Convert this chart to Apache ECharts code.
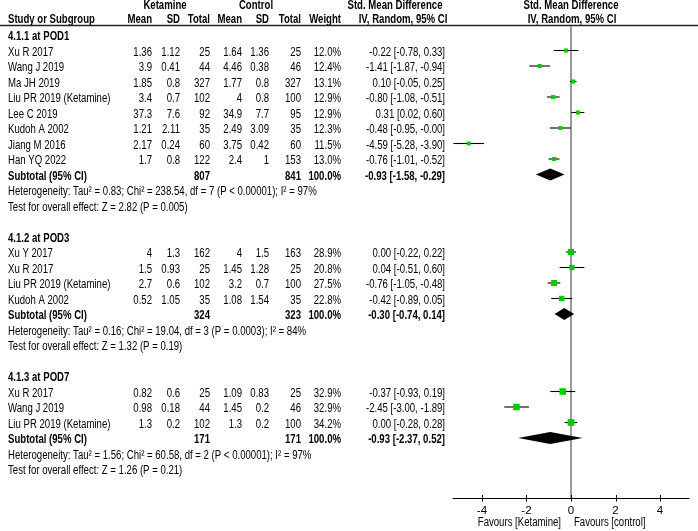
<!DOCTYPE html>
<html><head><meta charset="utf-8">
<script src="https://cdn.jsdelivr.net/npm/echarts@6/dist/echarts.min.js"></script>
<style>html,body{margin:0;padding:0;background:#fff}#c{width:698px;height:531px}</style>
</head><body><div id="c"></div>
<script>
// ---------- data ----------
const groupNames = ['4.1.1 at POD1', '4.1.2 at POD3', '4.1.3 at POD7'];
const studyGroup = [0,0,0,0,0,0,0,0, 1,1,1,1, 2,2,2];
const studyNames = ['Xu R 2017','Wang J 2019','Ma JH 2019','Liu PR 2019 (Ketamine)','Lee C 2019','Kudoh A 2002','Jiang M 2016','Han YQ 2022',
  'Xu Y 2017','Xu R 2017','Liu PR 2019 (Ketamine)','Kudoh A 2002',
  'Xu R 2017','Wang J 2019','Liu PR 2019 (Ketamine)'];
const ketMean = [1.36,3.9,1.85,3.4,37.3,1.21,2.17,1.7, 4,1.5,2.7,0.52, 0.82,0.98,1.3];
const ketSD   = [1.12,0.41,0.8,0.7,7.6,2.11,0.24,0.8, 1.3,0.93,0.6,1.05, 0.6,0.18,0.2];
const ketN    = [25,44,327,102,92,35,60,122, 162,25,102,35, 25,44,102];
const ctlMean = [1.64,4.46,1.77,4,34.9,2.49,3.75,2.4, 4,1.45,3.2,1.08, 1.09,1.45,1.3];
const ctlSD   = [1.36,0.38,0.8,0.8,7.7,3.09,0.42,1, 1.5,1.28,0.7,1.54, 0.83,0.2,0.2];
const ctlN    = [25,46,327,100,95,35,60,153, 163,25,100,35, 25,46,100];
const weight  = [12.0,12.4,13.1,12.9,12.9,12.3,11.5,13.0, 28.9,20.8,27.5,22.8, 32.9,32.9,34.2];
const smd     = [-0.22,-1.41,0.10,-0.80,0.31,-0.48,-4.59,-0.76, 0.00,0.04,-0.76,-0.42, -0.37,-2.45,0.00];
const ciLow   = [-0.78,-1.87,-0.05,-1.08,0.02,-0.95,-5.28,-1.01, -0.22,-0.51,-1.05,-0.89, -0.93,-3.00,-0.28];
const ciHigh  = [0.33,-0.94,0.25,-0.51,0.60,-0.004,-3.90,-0.52, 0.22,0.60,-0.48,0.05, 0.19,-1.89,0.28];

const subKetN = [807, 324, 171];
const subCtlN = [841, 323, 171];
const subSmd  = [-0.93, -0.30, -0.93];
const subLow  = [-1.58, -0.74, -2.37];
const subHigh = [-0.29, 0.14, 0.52];
const hetText = [
  'Heterogeneity: Tau\u00b2 = 0.83; Chi\u00b2 = 238.54, df = 7 (P < 0.00001); I\u00b2 = 97%',
  'Heterogeneity: Tau\u00b2 = 0.16; Chi\u00b2 = 19.04, df = 3 (P = 0.0003); I\u00b2 = 84%',
  'Heterogeneity: Tau\u00b2 = 1.56; Chi\u00b2 = 60.58, df = 2 (P < 0.00001); I\u00b2 = 97%'];
const effectText = [
  'Test for overall effect: Z = 2.82 (P = 0.005)',
  'Test for overall effect: Z = 1.32 (P = 0.19)',
  'Test for overall effect: Z = 1.26 (P = 0.21)'];
const xTicks = [-4, -2, 0, 2, 4];
const favourLabels = ['Favours [Ketamine]', 'Favours [control]'];

// ---------- layout ----------
const FONT = '"Liberation Sans", Arial, sans-serif';
const FS = 12, SX = 0.8;
const ROW0 = 35, PITCH = 15.5, GTOP = 26, GBOT = 498;
const yMin = (GTOP - ROW0) / PITCH, yMax = (GBOT - ROW0) / PITCH;
const colX = [152, 180, 210, 242, 269, 301, 341, 445];
const ci = (e, l, h) => e.toFixed(2) + ' [' + l.toFixed(2) + ', ' + h.toFixed(2) + ']';

const texts = [];   // [x, row, textIndex]
const textInfo = []; // {t, align, bold}
function addText(x, row, t, align, bold) {
  textInfo.push({t: String(t), align, bold});
  texts.push([x, row, textInfo.length - 1]);
}
const squares = [], whiskers = [], diamonds = [];
let row = 0;
groupNames.forEach((g, gi) => {
  addText(8, row, g, 'left', true); row++;
  studyNames.forEach((s, i) => {
    if (studyGroup[i] !== gi) return;
    addText(8, row, s, 'left', false);
    const vals = [ketMean[i], ketSD[i], ketN[i], ctlMean[i], ctlSD[i], ctlN[i], weight[i].toFixed(1) + '%', ci(smd[i], ciLow[i], ciHigh[i])];
    vals.forEach((v, k) => addText(colX[k], row, v, 'right', false));
    squares.push([smd[i], row, weight[i]]);
    whiskers.push([ciLow[i], ciHigh[i], row]);
    row++;
  });
  addText(8, row, 'Subtotal (95% CI)', 'left', true);
  addText(colX[2], row, subKetN[gi], 'right', true);
  addText(colX[5], row, subCtlN[gi], 'right', true);
  addText(colX[6], row, '100.0%', 'right', true);
  addText(colX[7], row, ci(subSmd[gi], subLow[gi], subHigh[gi]), 'right', true);
  diamonds.push([subLow[gi], subSmd[gi], subHigh[gi], row]);
  row++;
  addText(8, row, hetText[gi], 'left', false); row++;
  addText(8, row, effectText[gi], 'left', false); row++;
  row++;
});

function txt(x, y, t, align, bold, size) {
  return {type: 'text', x: x, y: y, scaleX: SX, silent: true,
    style: {text: t, textAlign: align, textVerticalAlign: 'middle', fill: '#000',
      font: (bold ? 'bold ' : '') + (size || FS) + 'px ' + FONT}};
}

const headerGraphics = [
  txt(165, 6, 'Ketamine', 'center', true),
  txt(256, 6, 'Control', 'center', true),
  txt(395, 6, 'Std. Mean Difference', 'center', true),
  txt(571, 6, 'Std. Mean Difference', 'center', true),
  txt(8, 20, 'Study or Subgroup', 'left', true),
  txt(152, 20, 'Mean', 'right', true),
  txt(180, 20, 'SD', 'right', true),
  txt(210, 20, 'Total', 'right', true),
  txt(242, 20, 'Mean', 'right', true),
  txt(269, 20, 'SD', 'right', true),
  txt(301, 20, 'Total', 'right', true),
  txt(341, 20, 'Weight', 'right', true),
  txt(403, 20, 'IV, Random, 95% CI', 'center', true),
  txt(572, 20, 'IV, Random, 95% CI', 'center', true),
  {type: 'line', silent: true, shape: {x1: 0, y1: 25.5, x2: 698, y2: 25.5}, style: {stroke: '#222', lineWidth: 1.5}},
  txt(561, 522.5, favourLabels[0], 'right', false),
  txt(574, 522.5, favourLabels[1], 'left', false)
];

const chart = echarts.init(document.getElementById('c'), null, {renderer: 'canvas'});
chart.setOption({
  animation: false,
  backgroundColor: '#fff',
  graphic: {elements: headerGraphics},
  grid: [
    {left: 0, right: 0, top: GTOP, bottom: 531 - GBOT},
    {left: 453, right: 9, top: GTOP, bottom: 531 - GBOT}
  ],
  xAxis: [
    {gridIndex: 0, type: 'value', min: 0, max: 698, show: false},
    {gridIndex: 1, type: 'value', min: -5.3, max: 5.3,
      axisLine: {show: true, onZero: false, lineStyle: {color: '#000', width: 1}},
      axisTick: {show: false},
      axisLabel: {show: true, customValues: xTicks, margin: 7, color: '#000', fontSize: 11.5, fontFamily: FONT},
      splitLine: {show: false}}
  ],
  yAxis: [
    {gridIndex: 0, type: 'value', min: yMin, max: yMax, inverse: true, show: false},
    {gridIndex: 1, type: 'value', min: yMin, max: yMax, inverse: true, show: false}
  ],
  series: [
    {type: 'custom', xAxisIndex: 0, yAxisIndex: 0, data: texts, silent: true,
      renderItem: function (params, api) {
        const p = api.coord([api.value(0), api.value(1)]);
        const info = textInfo[api.value(2)];
        return txt(p[0], p[1] + 2, info.t, info.align, info.bold);
      }},
    {type: 'custom', xAxisIndex: 1, yAxisIndex: 1, data: xTicks.map(t => [t]), silent: true, z: 5,
      renderItem: function (params, api) {
        const p = api.coord([api.value(0), yMax]);
        const x = Math.round(p[0]) + 0.5;
        return {type: 'line', shape: {x1: x, y1: p[1] - 3, x2: x, y2: p[1] + 3.5}, style: {stroke: '#000', lineWidth: 1}};
      }},
    {type: 'custom', xAxisIndex: 1, yAxisIndex: 1, data: whiskers, silent: true, z: 2,
      renderItem: function (params, api) {
        const a = api.coord([api.value(0), api.value(2)]);
        const b = api.coord([api.value(1), api.value(2)]);
        return {type: 'line', shape: {x1: a[0], y1: a[1], x2: b[0], y2: b[1]}, style: {stroke: '#000', lineWidth: 1.1}};
      }},
    {type: 'scatter', xAxisIndex: 1, yAxisIndex: 1, data: squares, symbol: 'rect', silent: true, z: 3,
      symbolSize: function (v) { return 1.15 * Math.sqrt(v[2]); },
      itemStyle: {color: '#00cc00', opacity: 1},
      markLine: {silent: true, symbol: ['none', 'none'], label: {show: false},
        lineStyle: {color: '#999', width: 2, type: 'solid'}, data: [{xAxis: 0}], z: 1}},
    {type: 'custom', xAxisIndex: 1, yAxisIndex: 1, data: diamonds, silent: true, z: 4,
      renderItem: function (params, api) {
        const l = api.coord([api.value(0), api.value(3)]);
        const m = api.coord([api.value(1), api.value(3)]);
        const h = api.coord([api.value(2), api.value(3)]);
        return {type: 'polygon', shape: {points: [[l[0], l[1]], [m[0], m[1] - 6], [h[0], h[1]], [m[0], m[1] + 6]]},
          style: {fill: '#000'}};
      }}
  ]
});
</script></body></html>
